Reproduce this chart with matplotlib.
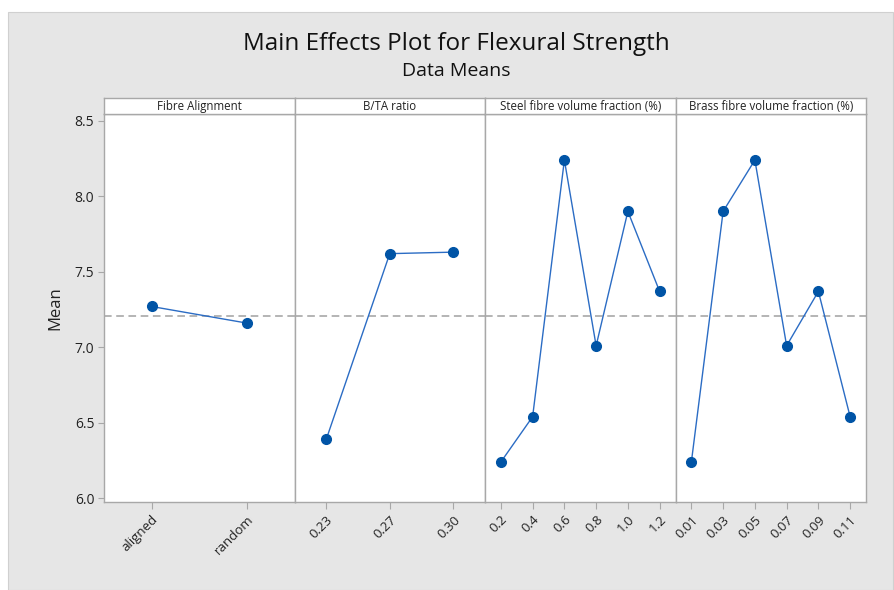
import matplotlib
matplotlib.use('Agg')
import matplotlib.pyplot as plt
from matplotlib.patches import Rectangle

plt.rcParams['font.family'] = ['Open Sans', 'DejaVu Sans']

# ---------------- data ----------------
factor_names = ['Fibre Alignment', 'B/TA ratio',
                'Steel fibre volume fraction (%)', 'Brass fibre volume fraction (%)']

fibre_levels = ['aligned', 'random']
fibre_means = [7.27, 7.16]

bta_levels = ['0.23', '0.27', '0.30']
bta_means = [6.39, 7.62, 7.63]

steel_levels = ['0.2', '0.4', '0.6', '0.8', '1.0', '1.2']
steel_means = [6.24, 6.54, 8.24, 7.01, 7.90, 7.37]

brass_levels = ['0.01', '0.03', '0.05', '0.07', '0.09', '0.11']
brass_means = [6.24, 7.90, 8.24, 7.01, 7.37, 6.54]

grand_mean = 7.21
y_ticks = [6.0, 6.5, 7.0, 7.5, 8.0, 8.5]

levels = [fibre_levels, bta_levels, steel_levels, brass_levels]
means = [fibre_means, bta_means, steel_means, brass_means]

# ---------------- layout ----------------
W, H = 894, 590
fig = plt.figure(figsize=(W / 100, H / 100), dpi=100)
fig.patch.set_facecolor('white')
fig.patches.append(Rectangle((8 / W, 0), (893 - 8) / W, (590 - 12) / H,
                             transform=fig.transFigure, facecolor='#e6e6e6',
                             edgecolor='#d0d0d0', linewidth=0.8, zorder=-10))

grey = '#a8a8a8'
line_col = '#2b6cc4'
mark_col = '#0054a6'

left = 104 / W
pw = (866 - 104) / 4 / W
bottom = (H - 502) / H
ph = (502 - 114) / H
hb = (H - 114) / H
hh = 16 / H

for i in range(4):
	ax = fig.add_axes([left + i * pw, bottom, pw, ph])
	xs = list(range(len(levels[i])))
	ax.plot(xs, means[i], color=line_col, linewidth=1.0, marker='o',
	        markersize=7, markerfacecolor=mark_col, markeredgecolor=mark_col, zorder=3)
	ax.axhline(grand_mean, color='#a0a0a0', linestyle=(0, (5, 3)), linewidth=1.1, zorder=1)
	ax.set_xlim(-0.5, len(xs) - 0.5)
	ax.set_ylim(5.975, 8.545)
	ax.set_xticks(xs)
	ax.set_xticklabels(levels[i], rotation=45, ha='right', rotation_mode='anchor',
	                   fontsize=9.5, color='#222222')
	ax.set_yticks(y_ticks)
	if i == 0:
		ax.set_yticklabels(['%.1f' % t for t in y_ticks], fontsize=10, color='#222222')
		ax.set_ylabel('Mean', fontsize=12, color='#222222', labelpad=8)
		ax.tick_params(axis='y', length=4, color=grey, pad=3)
	else:
		ax.tick_params(axis='y', left=False, labelleft=False)
	ax.tick_params(axis='x', length=5, color=grey, pad=3)
	for s in ax.spines.values():
		s.set_color(grey)
		s.set_linewidth(1.0)
	ax.set_facecolor('white')

	# header strip
	hx = fig.add_axes([left + i * pw, hb, pw, hh])
	hx.set_xticks([])
	hx.set_yticks([])
	hx.set_facecolor('white')
	for s in hx.spines.values():
		s.set_color(grey)
		s.set_linewidth(1.0)
	hx.text(0.5, 0.45, factor_names[i], ha='center', va='center',
	        fontsize=8.3, color='#222222', transform=hx.transAxes)

fig.text(456 / W, 1 - 44 / H, 'Main Effects Plot for Flexural Strength',
         ha='center', va='center', fontsize=17.5, color='#111111')
fig.text(456 / W, 1 - 71 / H, 'Data Means', ha='center', va='center',
         fontsize=14, color='#111111')

fig.savefig('out.png', dpi=100)
